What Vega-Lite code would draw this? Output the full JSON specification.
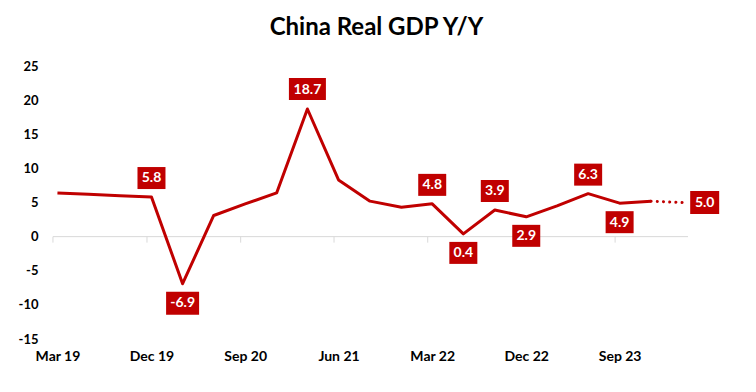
{
  "$schema": "https://vega.github.io/schema/vega-lite/v6.json",
  "width": 635,
  "height": 273,
  "autosize": "none",
  "padding": {"left": 53, "top": 66, "right": 68, "bottom": 53},
  "background": "white",
  "title": {"text": "China Real GDP Y/Y", "font": "Lato", "fontSize": 24, "fontWeight": "bold", "color": "#000000", "anchor": "middle", "frame": "group", "dx": 6, "offset": 20},
  "config": {
    "view": {"stroke": null},
    "locale": {"number": {"decimal": ".", "thousands": ",", "grouping": [3], "currency": ["$", ""], "minus": "-"}},
    "axisX": {"labelFont": "Lato", "labelFontSize": 14, "labelFontWeight": "bold", "labelColor": "#000000", "ticks": false, "domain": false, "grid": false, "labelPadding": 10, "title": null, "labelFlush": false, "labelOverlap": false},
    "axisY": {"labelFont": "Lato", "labelFontSize": 13, "labelFontWeight": "bold", "labelColor": "#000000", "ticks": false, "domain": false, "grid": false, "labelPadding": 15, "title": null, "labelOverlap": false, "labelFlush": false}
  },
  "data": {
    "values": [
      {"date": "2019-03-31", "gdp": 6.4, "status": "actual"},
      {"date": "2019-06-30", "gdp": 6.2, "status": "actual"},
      {"date": "2019-09-30", "gdp": 6.0, "status": "actual"},
      {"date": "2019-12-31", "gdp": 5.8, "status": "actual", "lab": "above", "label": "5.8"},
      {"date": "2020-03-31", "gdp": -6.9, "status": "actual", "lab": "below", "label": "-6.9"},
      {"date": "2020-06-30", "gdp": 3.1, "status": "actual"},
      {"date": "2020-09-30", "gdp": 4.8, "status": "actual"},
      {"date": "2020-12-31", "gdp": 6.4, "status": "actual"},
      {"date": "2021-03-31", "gdp": 18.7, "status": "actual", "lab": "above", "label": "18.7"},
      {"date": "2021-06-30", "gdp": 8.3, "status": "actual"},
      {"date": "2021-09-30", "gdp": 5.2, "status": "actual"},
      {"date": "2021-12-31", "gdp": 4.3, "status": "actual"},
      {"date": "2022-03-31", "gdp": 4.8, "status": "actual", "lab": "above", "label": "4.8"},
      {"date": "2022-06-30", "gdp": 0.4, "status": "actual", "lab": "below", "label": "0.4"},
      {"date": "2022-09-30", "gdp": 3.9, "status": "actual", "lab": "above", "label": "3.9"},
      {"date": "2022-12-31", "gdp": 2.9, "status": "actual", "lab": "below", "label": "2.9"},
      {"date": "2023-03-31", "gdp": 4.5, "status": "actual"},
      {"date": "2023-06-30", "gdp": 6.3, "status": "actual", "lab": "above", "label": "6.3"},
      {"date": "2023-09-30", "gdp": 4.9, "status": "actual", "lab": "below", "label": "4.9"},
      {"date": "2023-12-31", "gdp": 5.2, "status": "latest"},
      {"date": "2024-03-31", "gdp": 5.0, "status": "estimate", "lab": "right", "label": "5.0"}
    ]
  },
  "layer": [
    {
      "data": {"values": [{"base": 0}]},
      "mark": {"type": "rule", "color": "#d9d9d9", "strokeWidth": 1},
      "encoding": {"y": {"field": "base", "type": "quantitative", "scale": {"domain": [-15, 25], "nice": false, "zero": false}, "axis": {"values": [-15, -10, -5, 0, 5, 10, 15, 20, 25], "tickCount": 9}}}
    },
    {
      "data": {"values": [{"date": "2019-03-31"}, {"date": "2019-12-31"}, {"date": "2020-09-30"}, {"date": "2021-06-30"}, {"date": "2022-03-31"}, {"date": "2022-12-31"}, {"date": "2023-09-30"}]},
      "mark": {"type": "rule", "color": "#d9d9d9", "strokeWidth": 1, "xOffset": -4.5},
      "encoding": {
        "x": {"field": "date", "type": "temporal"},
        "y": {"datum": 0},
        "y2": {"datum": -0.88}
      }
    },
    {
      "transform": [{"filter": "datum.status != 'estimate'"}],
      "mark": {"type": "line", "color": "#C00000", "strokeWidth": 3, "strokeJoin": "round"},
      "encoding": {
        "x": {"field": "date", "type": "temporal",
          "scale": {"type": "utc", "domain": [{"year": 2019, "month": 3, "date": 18, "utc": true}, {"year": 2024, "month": 4, "date": 17, "utc": true}]},
          "axis": {"format": "%b %y", "values": [
            {"year": 2019, "month": 3, "date": 31, "utc": true},
            {"year": 2019, "month": 12, "date": 31, "utc": true},
            {"year": 2020, "month": 9, "date": 30, "utc": true},
            {"year": 2021, "month": 6, "date": 30, "utc": true},
            {"year": 2022, "month": 3, "date": 31, "utc": true},
            {"year": 2022, "month": 12, "date": 31, "utc": true},
            {"year": 2023, "month": 9, "date": 30, "utc": true}
          ]}},
        "y": {"field": "gdp", "type": "quantitative", "axis": {"values": [-15, -10, -5, 0, 5, 10, 15, 20, 25], "tickCount": 9}}
      }
    },
    {
      "transform": [{"filter": "datum.status == 'estimate' || datum.status == 'latest'"}],
      "mark": {"type": "line", "color": "#C00000", "strokeWidth": 3, "strokeCap": "round", "strokeDash": [0.1, 6.1]},
      "encoding": {
        "x": {"field": "date", "type": "temporal"},
        "y": {"field": "gdp", "type": "quantitative"}
      }
    },
    {
      "transform": [{"filter": "datum.lab == 'above' && length(datum.label) <= 3"}],
      "mark": {"type": "rect", "color": "#C00000", "xOffset": -14, "x2Offset": 14, "yOffset": -30, "y2Offset": -8},
      "encoding": {"x": {"field": "date", "type": "temporal"}, "x2": {"field": "date"}, "y": {"field": "gdp", "type": "quantitative"}, "y2": {"field": "gdp"}}
    },
    {
      "transform": [{"filter": "datum.lab == 'above' && length(datum.label) > 3"}],
      "mark": {"type": "rect", "color": "#C00000", "xOffset": -18.5, "x2Offset": 18.5, "yOffset": -31, "y2Offset": -9},
      "encoding": {"x": {"field": "date", "type": "temporal"}, "x2": {"field": "date"}, "y": {"field": "gdp", "type": "quantitative"}, "y2": {"field": "gdp"}}
    },
    {
      "transform": [{"filter": "datum.lab == 'below' && length(datum.label) <= 3"}],
      "mark": {"type": "rect", "color": "#C00000", "xOffset": -14, "x2Offset": 14, "yOffset": 8, "y2Offset": 30},
      "encoding": {"x": {"field": "date", "type": "temporal"}, "x2": {"field": "date"}, "y": {"field": "gdp", "type": "quantitative"}, "y2": {"field": "gdp"}}
    },
    {
      "transform": [{"filter": "datum.lab == 'below' && length(datum.label) > 3"}],
      "mark": {"type": "rect", "color": "#C00000", "xOffset": -16.5, "x2Offset": 16.5, "yOffset": 8, "y2Offset": 31},
      "encoding": {"x": {"field": "date", "type": "temporal"}, "x2": {"field": "date"}, "y": {"field": "gdp", "type": "quantitative"}, "y2": {"field": "gdp"}}
    },
    {
      "transform": [{"filter": "datum.lab == 'right'"}],
      "mark": {"type": "rect", "color": "#C00000", "xOffset": 8, "x2Offset": 37, "yOffset": -11.5, "y2Offset": 11.5},
      "encoding": {"x": {"field": "date", "type": "temporal"}, "x2": {"field": "date"}, "y": {"field": "gdp", "type": "quantitative"}, "y2": {"field": "gdp"}}
    },
    {
      "transform": [{"filter": "datum.lab == 'above'"}],
      "mark": {"type": "text", "color": "#ffffff", "font": "Lato", "fontSize": 14, "fontWeight": "bold", "align": "center", "baseline": "middle", "yOffset": -19},
      "encoding": {"x": {"field": "date", "type": "temporal"}, "y": {"field": "gdp", "type": "quantitative"}, "text": {"field": "label"}}
    },
    {
      "transform": [{"filter": "datum.lab == 'below'"}],
      "mark": {"type": "text", "color": "#ffffff", "font": "Lato", "fontSize": 14, "fontWeight": "bold", "align": "center", "baseline": "middle", "yOffset": 19.5},
      "encoding": {"x": {"field": "date", "type": "temporal"}, "y": {"field": "gdp", "type": "quantitative"}, "text": {"field": "label"}}
    },
    {
      "transform": [{"filter": "datum.lab == 'right'"}],
      "mark": {"type": "text", "color": "#ffffff", "font": "Lato", "fontSize": 14, "fontWeight": "bold", "align": "center", "baseline": "middle", "xOffset": 22.5},
      "encoding": {"x": {"field": "date", "type": "temporal"}, "y": {"field": "gdp", "type": "quantitative"}, "text": {"field": "label"}}
    }
  ]
}
